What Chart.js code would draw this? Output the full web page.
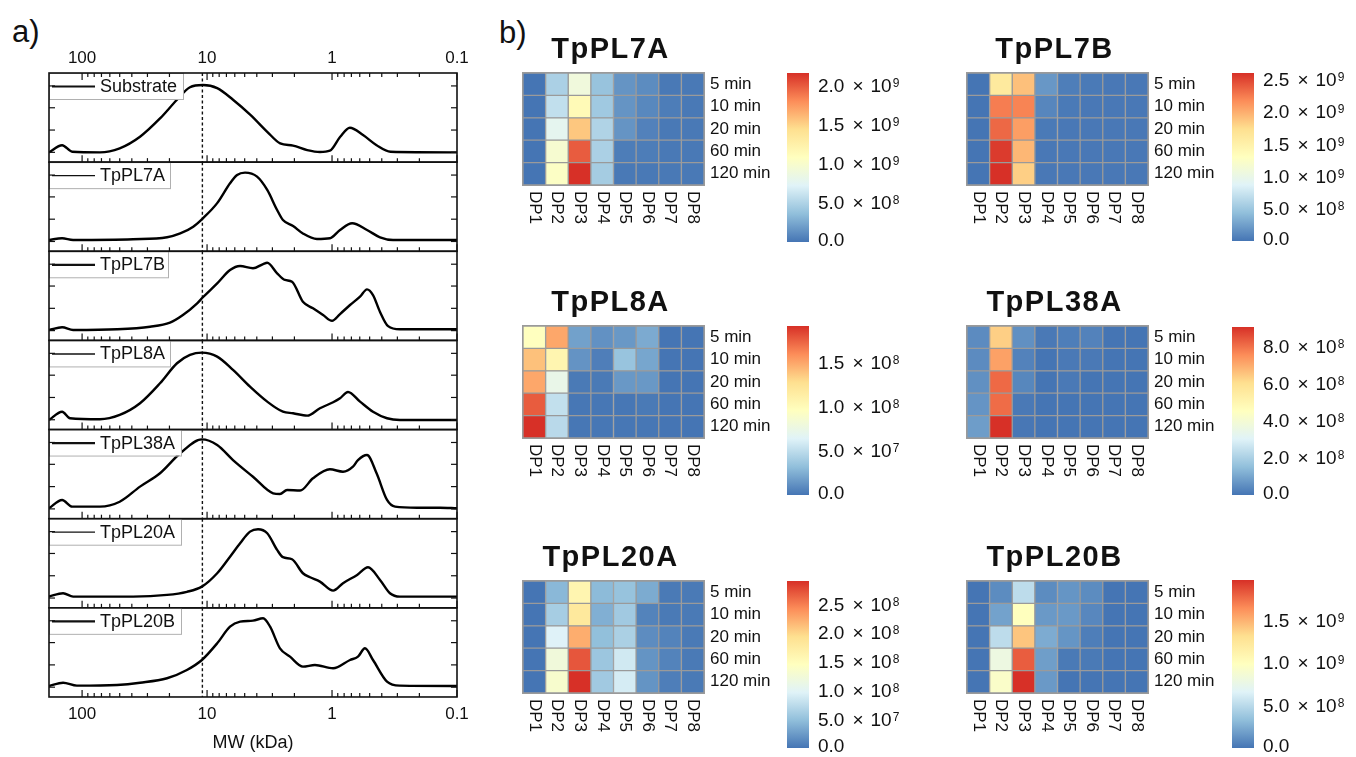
<!DOCTYPE html>
<html>
<head>
<meta charset="utf-8">
<script src="https://cdn.jsdelivr.net/npm/chart.js@4.4.1/dist/chart.umd.min.js"></script>
<style>
  body{margin:0;background:#fff;width:1356px;height:757px;position:relative;overflow:hidden;font-family:"Liberation Sans",Arial,sans-serif}
  canvas{position:absolute}
  .plab{position:absolute;font-size:31px;line-height:1;color:#111}
</style>
</head>
<body>
<div class="plab" style="left:12px;top:16px">a)</div>
<div class="plab" style="left:499px;top:17px">b)</div>
<script>
// ---- panel a: SEC traces (MW in kDa, height as fraction of each strip) ----
const mwSubstrate = [184,144.5,120,72,50,34.4,23.8,17.4,13.7,10.8,8.3,6.2,4.5,3.3,2.6,2.05,1.58,1.25,1.04,0.86,0.72,0.565,0.44,0.34,0.1];
const hSubstrate  = [0.11,0.19,0.117,0.11,0.155,0.285,0.49,0.70,0.84,0.865,0.83,0.70,0.53,0.34,0.21,0.185,0.135,0.113,0.128,0.285,0.386,0.304,0.19,0.117,0.11];
const mw7A = [184,144.5,118,39.1,20.9,16.4,12.9,10.8,8.3,6.55,5.75,4.97,3.98,3.3,2.75,2.47,2.05,1.71,1.32,1.04,0.863,0.69,0.525,0.413,0.325,0.1];
const h7A  = [0.127,0.146,0.127,0.135,0.157,0.20,0.276,0.37,0.54,0.763,0.856,0.882,0.837,0.688,0.463,0.351,0.284,0.20,0.138,0.146,0.239,0.314,0.239,0.157,0.127,0.127];
const mw7B = [184,144.5,118,52.5,28.6,19.8,15.6,12.0,10.8,8.3,6.55,5.44,4.29,3.56,3.3,2.75,2.38,2.09,1.71,1.42,1.18,1.0,0.863,0.718,0.597,0.525,0.47,0.413,0.356,0.286,0.1];
const h7B  = [0.117,0.147,0.117,0.125,0.154,0.20,0.285,0.416,0.484,0.64,0.79,0.835,0.81,0.857,0.872,0.753,0.678,0.659,0.434,0.36,0.285,0.22,0.296,0.397,0.49,0.573,0.509,0.32,0.16,0.125,0.125];
const mw8A = [184,144.5,125,72,50,34.4,23.8,17.4,13.7,11.0,8.3,6.2,4.53,3.3,2.47,2.05,1.58,1.25,0.98,0.863,0.745,0.597,0.47,0.363,0.286,0.1];
const h8A  = [0.108,0.20,0.127,0.116,0.164,0.295,0.519,0.744,0.837,0.863,0.818,0.669,0.481,0.313,0.20,0.183,0.156,0.239,0.306,0.351,0.422,0.313,0.20,0.127,0.108,0.108];
const mw38A = [184,144.5,120,72,50,34.4,23.8,16.4,11.0,8.3,6.2,4.29,2.96,2.61,2.29,1.80,1.42,1.04,0.817,0.68,0.62,0.525,0.44,0.363,0.313,0.209,0.137,0.1];
const h38A  = [0.117,0.21,0.135,0.135,0.19,0.36,0.51,0.734,0.89,0.827,0.658,0.471,0.285,0.277,0.322,0.316,0.453,0.554,0.527,0.583,0.658,0.715,0.509,0.21,0.135,0.123,0.123,0.117];
const mw20A = [184,142,118,39.1,20.9,14.5,11.0,8.3,6.55,5.44,4.53,3.91,3.3,2.75,2.47,2.09,1.71,1.5,1.25,0.98,0.817,0.63,0.515,0.413,0.344,0.286,0.1];
const h20A  = [0.126,0.164,0.126,0.126,0.145,0.18,0.238,0.388,0.574,0.725,0.855,0.882,0.837,0.65,0.568,0.545,0.388,0.343,0.294,0.193,0.276,0.369,0.455,0.313,0.164,0.126,0.126];
const mw20B = [184,142,110,52.5,34.4,20.9,14.5,11.0,8.3,6.55,5.44,4.29,3.56,3.13,2.61,2.17,1.71,1.37,0.98,0.718,0.62,0.545,0.47,0.363,0.286,0.1];
const h20B  = [0.123,0.16,0.127,0.135,0.16,0.21,0.303,0.415,0.602,0.789,0.845,0.856,0.883,0.789,0.546,0.452,0.34,0.359,0.322,0.415,0.452,0.546,0.415,0.172,0.127,0.123];

const xTickVals   = [100, 10, 1, 0.1];
const xTickLabels = ['100', '10', '1', '0.1'];
const yTickVals   = [0.11, 0.36, 0.61, 0.855];
const DASH_MW = 10.9;

// ---- panel b: heatmaps (rows: time, cols: DP) ----
const dpLabels   = ['DP1','DP2','DP3','DP4','DP5','DP6','DP7','DP8'];
const timeLabels = ['5 min','10 min','20 min','60 min','120 min'];
// values x1e9
const hm7A = [
  [0.0,0.48,0.90,0.39,0.15,0.11,0.02,0.02],
  [0.0,0.58,1.14,0.43,0.15,0.09,0.04,0.02],
  [0.0,0.78,1.55,0.50,0.15,0.06,0.02,0.02],
  [0.0,0.97,1.99,0.48,0.04,0.04,0.02,0.02],
  [0.0,1.04,2.16,0.45,0.02,0.02,0.02,0.02]];
// values x1e9
const hm7B = [
  [0.0,1.60,1.90,0.20,0.05,0.03,0.02,0.02],
  [0.0,2.24,2.21,0.10,0.03,0.02,0.02,0.02],
  [0.0,2.34,2.08,0.03,0.02,0.02,0.02,0.02],
  [0.0,2.55,1.95,0.02,0.02,0.02,0.02,0.02],
  [0.0,2.60,1.82,0.02,0.02,0.02,0.02,0.02]];
// values x1e8
const hm8A = [
  [0.96,1.50,0.19,0.12,0.15,0.23,0.0,0.0],
  [1.40,1.06,0.13,0.04,0.35,0.21,0.0,0.0],
  [1.50,0.73,0.02,0.02,0.15,0.15,0.0,0.0],
  [1.77,0.52,0.01,0.01,0.01,0.02,0.0,0.0],
  [1.92,0.48,0.01,0.01,0.01,0.01,0.0,0.0]];
// values x1e8
const hm38A = [
  [0.45,6.35,0.55,0.09,0.18,0.27,0.0,0.0],
  [0.45,7.20,0.27,0.0,0.09,0.09,0.0,0.0],
  [0.55,8.15,0.36,0.0,0.09,0.0,0.0,0.0],
  [0.64,8.10,0.09,0.0,0.0,0.0,0.0,0.0],
  [0.82,9.07,0.05,0.0,0.0,0.0,0.0,0.0]];
// values x1e8
const hm20A = [
  [0.0,0.44,1.60,0.46,0.52,0.35,0.03,0.03],
  [0.0,0.61,1.80,0.38,0.58,0.09,0.03,0.03],
  [0.0,0.96,2.23,0.49,0.64,0.15,0.09,0.03],
  [0.0,1.22,2.70,0.55,0.87,0.20,0.09,0.03],
  [0.0,1.33,2.90,0.58,0.90,0.20,0.06,0.03]];
// values x1e9
const hm20B = [
  [0.0,0.10,0.51,0.10,0.14,0.10,0.0,0.0],
  [0.0,0.20,0.99,0.16,0.16,0.08,0.0,0.0],
  [0.0,0.51,1.42,0.24,0.14,0.04,0.0,0.0],
  [0.0,0.79,1.81,0.18,0.02,0.02,0.0,0.0],
  [0.0,0.93,1.97,0.16,0.0,0.0,0.0,0.0]];

const cb7A  = [0, 5e8, 1e9, 1.5e9, 2e9];
const cb7B  = [0, 5e8, 1e9, 1.5e9, 2e9, 2.5e9];
const cb8A  = [0, 5e7, 1e8, 1.5e8];
const cb38A = [0, 2e8, 4e8, 6e8, 8e8];
const cb20A = [0, 5e7, 1e8, 1.5e8, 2e8, 2.5e8];
const cb20B = [0, 5e8, 1e9, 1.5e9];

const FONT = '"Liberation Sans", Arial, Helvetica, sans-serif';
const INK = '#111';
const palette = ['#4575B4','#91BFDB','#E0F3F8','#FFFFBF','#FEE090','#FC8D59','#D73027'];

function hexRgb(h){ return [1,3,5].map(i=>parseInt(h.slice(i,i+2),16)); }
function colorAt(t){
  t = Math.max(0, Math.min(1, t));
  const s = t*6, i = Math.min(5, Math.floor(s)), f = s - i;
  const a = hexRgb(palette[i]), b = hexRgb(palette[i+1]);
  const c = a.map((v,k)=>Math.round(v + (b[k]-v)*f));
  return `rgb(${c[0]},${c[1]},${c[2]})`;
}

// ---------------- panel a ----------------
const W_A = 480, H_A = 757;
const PANEL_TOP = 73, PANEL_H = 89.14, PANEL_L = 49, PANEL_R = 457;
const MW_MIN = 0.1, MW_MAX = 184;

const xMinor = [];
[10, 1, 0.1].forEach(d=>{ for(let m=2;m<=9;m++) xMinor.push(m*d); });

const lineDecor = {
  id:'lineDecor',
  beforeDatasetsDraw(chart){
    const {ctx, chartArea:a, scales:{x}} = chart;
    const dx = x.getPixelForValue(DASH_MW);
    ctx.save();
    ctx.strokeStyle = INK; ctx.lineWidth = 1.4; ctx.setLineDash([3,2.5]);
    ctx.beginPath(); ctx.moveTo(dx, a.top); ctx.lineTo(dx, a.bottom); ctx.stroke();
    ctx.restore();
  },
  afterDatasetsDraw(chart, args, o){
    const {ctx, chartArea:a, scales:{x,y}} = chart;
    ctx.save();
    // legend box
    ctx.fillStyle = '#fff'; ctx.fillRect(a.left, a.top, o.box, 26);
    ctx.strokeStyle = '#b0b0b0'; ctx.lineWidth = 1;
    ctx.strokeRect(a.left+0.5, a.top+0.5, o.box, 26);
    ctx.strokeStyle = INK; ctx.lineWidth = o.lw;
    ctx.beginPath(); ctx.moveTo(a.left+3, a.top+13.5); ctx.lineTo(a.left+46, a.top+13.5); ctx.stroke();
    ctx.fillStyle = INK; ctx.font = '18px '+FONT; ctx.textBaseline = 'middle'; ctx.textAlign = 'left';
    ctx.fillText(o.name, a.left+51, a.top+14);

    // frame
    ctx.strokeStyle = INK; ctx.lineWidth = 1.6;
    ctx.strokeRect(a.left, a.top, a.width, a.height);

    // x ticks (inward)
    ctx.lineWidth = 1.2;
    const tick = (v, len) => {
      const px = x.getPixelForValue(v);
      ctx.beginPath(); ctx.moveTo(px, a.bottom); ctx.lineTo(px, a.bottom-len); ctx.stroke();
      if (o.i === 0) { ctx.beginPath(); ctx.moveTo(px, a.top); ctx.lineTo(px, a.top+len); ctx.stroke(); }
    };
    xTickVals.forEach(v=>tick(v, 7));
    xMinor.forEach(v=>tick(v, 4));

    // y ticks (inward, both sides)
    yTickVals.forEach(v=>{
      const py = y.getPixelForValue(v);
      ctx.beginPath(); ctx.moveTo(a.left, py); ctx.lineTo(a.left+6, py); ctx.stroke();
      ctx.beginPath(); ctx.moveTo(a.right, py); ctx.lineTo(a.right-6, py); ctx.stroke();
    });

    // axis labels
    ctx.fillStyle = INK; ctx.font = '17px '+FONT; ctx.textAlign = 'center'; ctx.textBaseline = 'middle';
    if (o.i === 0) xTickVals.forEach((v,k)=>ctx.fillText(xTickLabels[k], x.getPixelForValue(v), a.top-15));
    if (o.last) {
      xTickVals.forEach((v,k)=>ctx.fillText(xTickLabels[k], x.getPixelForValue(v), a.bottom+17));
      ctx.font = '18px '+FONT;
      ctx.fillText('MW (kDa)', (a.left+a.right)/2, a.bottom+46);
    }
    ctx.restore();
  }
};

const lineSeries = [
  {name:'Substrate', mw:mwSubstrate, h:hSubstrate, box:134, lw:2.2},
  {name:'TpPL7A',    mw:mw7A,  h:h7A,  box:121, lw:1.2},
  {name:'TpPL7B',    mw:mw7B,  h:h7B,  box:119, lw:2.2},
  {name:'TpPL8A',    mw:mw8A,  h:h8A,  box:121, lw:1.5},
  {name:'TpPL38A',   mw:mw38A, h:h38A, box:132, lw:2.2},
  {name:'TpPL20A',   mw:mw20A, h:h20A, box:132, lw:1.2},
  {name:'TpPL20B',   mw:mw20B, h:h20B, box:132, lw:2.2}
];

lineSeries.forEach((s,i)=>{
  const cv = document.createElement('canvas');
  cv.width = W_A; cv.height = H_A;
  cv.style.left = '0px'; cv.style.top = '0px';
  document.body.appendChild(cv);
  const top = PANEL_TOP + i*PANEL_H, bottom = top + PANEL_H;
  new Chart(cv, {
    type:'line',
    data:{datasets:[{
      data: s.mw.map((m,k)=>({x:m, y:s.h[k]})),
      borderColor:'#000', borderWidth:2.4, pointRadius:0,
      cubicInterpolationMode:'monotone', fill:false
    }]},
    options:{
      responsive:false, animation:false, events:[],
      layout:{padding:{left:PANEL_L, right:W_A-PANEL_R, top:top, bottom:H_A-bottom}},
      plugins:{legend:{display:false}, tooltip:{enabled:false},
        lineDecor:{i, last:i===lineSeries.length-1, name:s.name, box:s.box, lw:s.lw}},
      scales:{
        x:{type:'logarithmic', min:MW_MIN, max:MW_MAX, reverse:true, display:false},
        y:{min:0, max:1, display:false}
      }
    },
    plugins:[lineDecor]
  });
});

// ---------------- panel b ----------------
const GRID_W = 181, GRID_H = 112, CB_W = 22;

function drawSci(ctx, v, x0, yc){
  const yb = yc + 6.5;
  ctx.textAlign = 'left'; ctx.textBaseline = 'alphabetic';
  ctx.font = '19px '+FONT;
  if (v === 0) { ctx.fillText('0.0', x0, yb); return; }
  const exp = Math.floor(Math.log10(v) + 1e-9);
  const mant = (v / Math.pow(10, exp)).toFixed(1);
  let x = x0;
  ctx.fillText(mant, x, yb); x += ctx.measureText(mant).width + 8;
  ctx.fillText('\u00d7', x, yb); x += ctx.measureText('\u00d7').width + 7;
  ctx.fillText('10', x, yb); x += ctx.measureText('10').width + 1;
  ctx.font = '12px '+FONT;
  ctx.fillText(String(exp), x, yb - 5);
}

const hmDecor = {
  id:'hmDecor',
  afterDraw(chart, args, o){
    const {ctx, chartArea:a, scales:{x,y}} = chart;
    ctx.save();
    ctx.strokeStyle = '#9a9a9a'; ctx.lineWidth = 1;
    ctx.strokeRect(a.left-0.5, a.top-0.5, a.width+1, a.height+1);
    ctx.fillStyle = INK;
    ctx.font = 'bold 29px '+FONT; ctx.textAlign = 'center'; ctx.textBaseline = 'alphabetic';
    ctx.letterSpacing = '1.5px';
    ctx.fillText(o.title, (a.left+a.right)/2 - 3, a.top-15);
    ctx.letterSpacing = '0px';
    ctx.font = '17px '+FONT; ctx.textAlign = 'left'; ctx.textBaseline = 'middle';
    timeLabels.forEach((t,r)=>{
      ctx.fillText(t, a.right+6, y.getPixelForValue(timeLabels.length-1-r+0.5));
    });
    dpLabels.forEach((d,c)=>{
      ctx.save();
      ctx.translate(x.getPixelForValue(c), a.bottom+6);
      ctx.rotate(Math.PI/2);
      ctx.fillText(d, 0, 0);
      ctx.restore();
    });
    ctx.restore();
  }
};

const cbDecor = {
  id:'cbDecor',
  afterDraw(chart, args, o){
    const {ctx, chartArea:a, scales:{y}} = chart;
    ctx.save();
    ctx.fillStyle = INK;
    o.ticks.forEach(v=>drawSci(ctx, v, a.right+9, Math.min(y.getPixelForValue(v), a.bottom-3)));
    ctx.restore();
  }
};

const heatmaps = [
  {title:'TpPL7A',  m:hm7A,  unit:1e9, ticks:cb7A,  gx:523, gy:73,  cbx:787,  cby:73,  cbh:169},
  {title:'TpPL7B',  m:hm7B,  unit:1e9, ticks:cb7B,  gx:967, gy:73,  cbx:1232, cby:73,  cbh:168},
  {title:'TpPL8A',  m:hm8A,  unit:1e8, ticks:cb8A,  gx:523, gy:326, cbx:787,  cby:326, cbh:169},
  {title:'TpPL38A', m:hm38A, unit:1e8, ticks:cb38A, gx:967, gy:326, cbx:1232, cby:327, cbh:168},
  {title:'TpPL20A', m:hm20A, unit:1e8, ticks:cb20A, gx:523, gy:581, cbx:787,  cby:581, cbh:167},
  {title:'TpPL20B', m:hm20B, unit:1e9, ticks:cb20B, gx:967, gy:581, cbx:1232, cby:580, cbh:168}
];

heatmaps.forEach(hm=>{
  const maxV = Math.max(...hm.m.flat()) * hm.unit;

  // heatmap cells: stacked unit bars coloured by value
  const cv = document.createElement('canvas');
  const cw = 300, ch = 205, pl = 30, pt = 45;
  cv.width = cw; cv.height = ch;
  cv.style.left = (hm.gx-pl)+'px'; cv.style.top = (hm.gy-pt)+'px';
  document.body.appendChild(cv);
  const rowsBottomUp = timeLabels.map((_,r)=>r).reverse();
  new Chart(cv, {
    type:'bar',
    data:{labels:dpLabels, datasets: rowsBottomUp.map(r=>({
      label: timeLabels[r],
      data: hm.m[r].map(()=>1),
      backgroundColor: hm.m[r].map(v=>colorAt(v*hm.unit/maxV)),
      borderColor:'#9a9a9a', borderWidth:1, borderSkipped:false,
      barPercentage:1, categoryPercentage:1
    }))},
    options:{
      responsive:false, animation:false, events:[],
      layout:{padding:{left:pl, top:pt, right:cw-pl-GRID_W, bottom:ch-pt-GRID_H}},
      plugins:{legend:{display:false}, tooltip:{enabled:false}, hmDecor:{title:hm.title}},
      scales:{
        x:{display:false, stacked:true},
        y:{display:false, stacked:true, min:0, max:timeLabels.length}
      }
    },
    plugins:[hmDecor]
  });

  // colour bar
  const cb = document.createElement('canvas');
  const bw = 150, bh = hm.cbh + 30, bl = 5, bt = 15;
  cb.width = bw; cb.height = bh;
  cb.style.left = (hm.cbx-bl)+'px'; cb.style.top = (hm.cby-bt)+'px';
  document.body.appendChild(cb);
  new Chart(cb, {
    type:'bar',
    data:{labels:[''], datasets:[{
      data:[[0, maxV]],
      backgroundColor:(c)=>{
        const {ctx, chartArea} = c.chart;
        if (!chartArea) return palette[0];
        const g = ctx.createLinearGradient(0, chartArea.bottom, 0, chartArea.top);
        palette.forEach((p,i)=>g.addColorStop(i/(palette.length-1), p));
        return g;
      },
      borderWidth:0, barPercentage:1, categoryPercentage:1
    }]},
    options:{
      responsive:false, animation:false, events:[],
      layout:{padding:{left:bl, top:bt, right:bw-bl-CB_W, bottom:bh-bt-hm.cbh}},
      plugins:{legend:{display:false}, tooltip:{enabled:false}, cbDecor:{ticks:hm.ticks}},
      scales:{x:{display:false}, y:{display:false, min:0, max:maxV}}
    },
    plugins:[cbDecor]
  });
});
</script>
</body>
</html>
